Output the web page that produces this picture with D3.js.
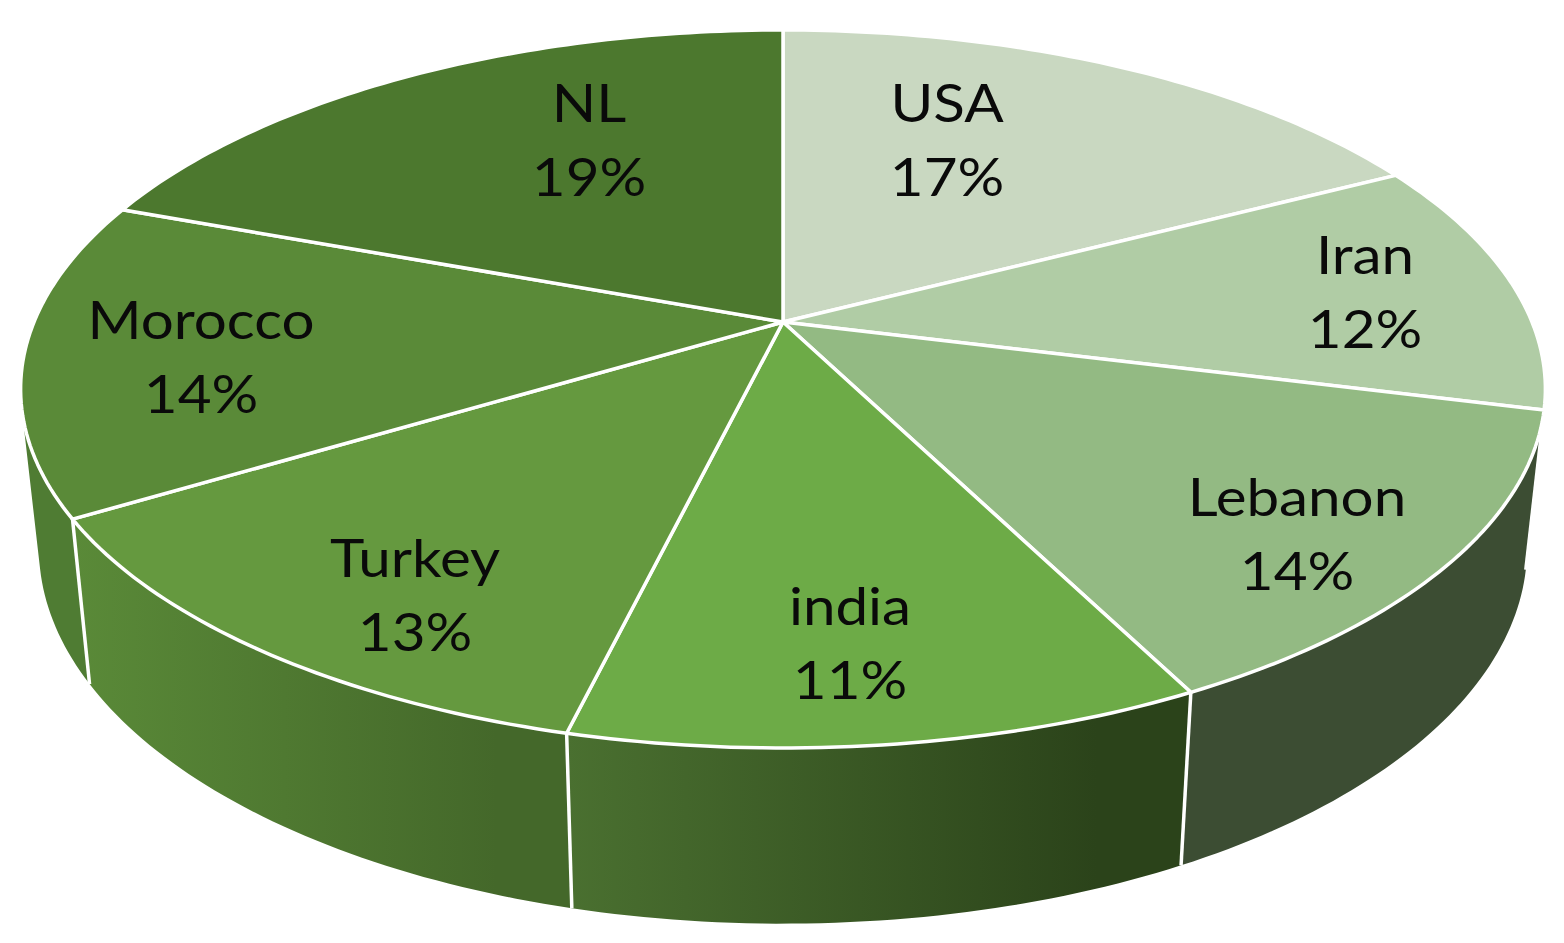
<!DOCTYPE html>
<html>
<head>
<meta charset="utf-8">
<style>
    html, body { margin: 0; padding: 0; background: #fff; }
    svg { display: block; }
    text { font-family: Lato, "Open Sans", sans-serif; fill: #0a0a0a; text-anchor: middle; }
</style>
<script src="https://cdn.jsdelivr.net/npm/d3@7"></script>
</head>
<body>
<div id="chart"></div>
<script>
// values, the labels only show them rounded
var categories = ['USA', 'Iran', 'Lebanon', 'india', 'Turkey', 'Morocco', 'NL'];
var shares = [17.4, 11.5, 13.6, 11.3, 12.6, 14.2, 19.4];
var topColors = ['#c9d8c1', '#b0cca5', '#93ba83', '#6dab47', '#65993f', '#5a8a38', '#4c782e'];
var sideColors = [null, null, ['#3c4d33', '#3c4d33'], ['#4a7030', '#2b431a'], ['#5a8a38', '#44682a'], ['#4f7c33', '#4f7c33'], null];

// label centres in page pixels, the first line baseline follows from them
var labelX = [947, 1365, 1297, 850, 415, 201, 589];
var labelY = [103, 255, 497, 606, 558, 320, 103];

var width = 1564,
    height = 943,
    cx = 783,
    cy = 322,
    rx = 749,
    ry = 346.5,
    tilt = 0.1866,
    // silhouette of the rim, as angle from the top
    rimLimit = 104 * Math.PI / 180,
    lineHeight = 74;

var svg = d3.select('#chart').append('svg')
    .attr('width', width)
    .attr('height', height);

var defs = svg.append('defs');
var pct = d3.format('.0f');

var pie = d3.pie().sort(null).value(function(d) { return d; });
var slices = pie(shares);

// perspective view of the disc, angle 0 is at the top and runs clockwise
function topPoint(a, r) {
    var X = r * Math.sin(a),
        Y = r * Math.cos(a),
        w = 1 + tilt * Y;
    return [cx + rx * X / w, cy - ry * Y / w];
}

// the lower rim, it sits under the top rim and pulled slightly to the centre
function lowPoint(a) {
    var p = topPoint(a, 1);
    return [cx + 0.976 * (p[0] - cx), 1.047 * p[1] + 140.5];
}

function arcAngles(a0, a1) {
    var n = Math.max(2, Math.ceil(Math.abs(a1 - a0) * 60));
    return d3.range(n + 1).map(function(i) { return a0 + (a1 - a0) * i / n; });
}

var line = d3.line();

var sides = svg.append('g').attr('class', 'sides');
var tops = svg.append('g').attr('class', 'tops');
var labels = svg.append('g').attr('class', 'labels');

slices.forEach(function(d, i) {
    if (!sideColors[i]) return;
    var a0 = Math.max(d.startAngle, rimLimit),
        a1 = Math.min(d.endAngle, 2 * Math.PI - rimLimit),
        angles = arcAngles(a0, a1),
        pts = angles.map(function(a) { return topPoint(a, 1); })
            .concat(angles.slice().reverse().map(lowPoint)),
        x0 = d3.min(pts, function(p) { return p[0]; }),
        x1 = d3.max(pts, function(p) { return p[0]; }),
        id = 'side' + i;

    var grad = defs.append('linearGradient')
        .attr('id', id)
        .attr('gradientUnits', 'userSpaceOnUse')
        .attr('x1', x0).attr('x2', x1)
        .attr('y1', 0).attr('y2', 0);
    grad.append('stop').attr('offset', 0).attr('stop-color', sideColors[i][0]);
    grad.append('stop').attr('offset', 0.85).attr('stop-color', sideColors[i][1]);

    sides.append('path')
        .attr('d', line(pts) + 'Z')
        .attr('fill', 'url(#' + id + ')');
});

// white seams between the side faces
slices.forEach(function(d) {
    if (d.startAngle <= rimLimit || d.startAngle >= 2 * Math.PI - rimLimit) return;
    sides.append('path')
        .attr('d', line([topPoint(d.startAngle, 1), lowPoint(d.startAngle)]))
        .attr('stroke', '#fff')
        .attr('stroke-width', 3.5)
        .attr('fill', 'none');
});

tops.selectAll('path')
    .data(slices)
    .enter()
    .append('path')
    .attr('d', function(d) {
        var pts = arcAngles(d.startAngle, d.endAngle).map(function(a) { return topPoint(a, 1); });
        return line([[cx, cy]].concat(pts)) + 'Z';
    })
    .attr('fill', function(d, i) { return topColors[i]; })
    .attr('stroke', '#fff')
    .attr('stroke-width', 3.5)
    .attr('stroke-linejoin', 'round');

// the picture has its text stretched sideways, so the group is scaled too
categories.forEach(function(name, i) {
    var g = labels.append('g')
        .attr('transform', 'translate(' + labelX[i] + ',' + labelY[i] + ') scale(1.1,1)');
    g.append('text')
        .attr('y', 19)
        .style('font-size', '53px')
        .text(name);
    g.append('text')
        .attr('y', 19 + lineHeight)
        .style('font-size', '53px')
        .text(pct(shares[i]) + '%');
});
</script>
</body>
</html>
